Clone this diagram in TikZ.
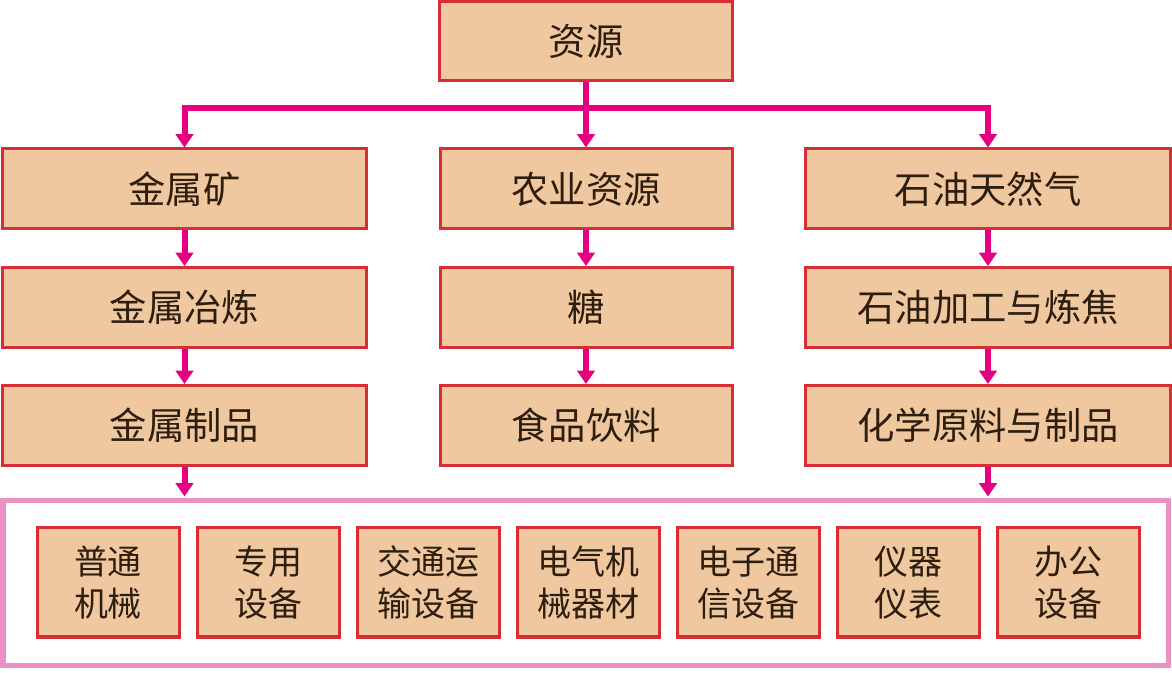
\documentclass[tikz,border=0pt]{standalone}
\usepackage{fontspec}
\setmainfont{Noto Sans CJK SC}
\usetikzlibrary{arrows.meta}
\definecolor{boxfill}{RGB}{240,200,160}
\definecolor{boxline}{RGB}{215,45,55}
\definecolor{arrowcol}{RGB}{228,0,128}
\definecolor{framecol}{RGB}{236,145,195}
\definecolor{txt}{RGB}{45,30,15}
\tikzset{
  bx/.style={draw=boxline, line width=2.25pt, fill=boxfill, text=txt, inner sep=0pt, align=center, font=\fontsize{28}{32}\selectfont},
  bigbox/.style={bx, minimum width=273.5pt, minimum height=60pt},
  midbox/.style={bx, minimum width=219pt, minimum height=60pt},
  smallbox/.style={bx, minimum width=106.5pt, minimum height=81.75pt, font=\fontsize{25.5}{31.5}\selectfont},
  conn/.style={draw=arrowcol, line width=4.5pt},
  arr/.style={conn, -{Triangle[width=13pt,length=10pt]}},
}
\begin{document}
\begin{tikzpicture}[x=0.75pt,y=-0.75pt]
\useasboundingbox (0,0) rectangle (1172,673);
\node[midbox, minimum width=219.75pt, minimum height=59.25pt] (top) at (586,41.5) {资源};
\node[bigbox] (r1l) at (184.5,189) {金属矿};
\node[midbox] (r1m) at (586,189) {农业资源};
\node[bigbox] (r1r) at (988,189) {石油天然气};
\node[bigbox] (r2l) at (184.5,307.5) {金属冶炼};
\node[midbox] (r2m) at (586,307.5) {糖};
\node[bigbox] (r2r) at (988,307.5) {石油加工与炼焦};
\node[bigbox] (r3l) at (184.5,425.5) {金属制品};
\node[midbox] (r3m) at (586,425.5) {食品饮料};
\node[bigbox] (r3r) at (988,425.5) {化学原料与制品};
\node[draw=framecol, line width=3.75pt, minimum width=873.75pt, minimum height=123pt, inner sep=0pt] (frame) at (585.5,583) {};
\node[smallbox] (b1) at (108,582.5) {普通\\机械};
\node[smallbox] (b2) at (268,582.5) {专用\\设备};
\node[smallbox] (b3) at (428,582.5) {交通运\\输设备};
\node[smallbox] (b4) at (588,582.5) {电气机\\械器材};
\node[smallbox] (b5) at (748,582.5) {电子通\\信设备};
\node[smallbox] (b6) at (908,582.5) {仪器\\仪表};
\node[smallbox] (b7) at (1068,582.5) {办公\\设备};
\coordinate (barL) at (184.5,108);
\coordinate (barR) at (988,108);
\coordinate (barM) at (586,108);
\draw[conn] ([xshift=-2.25pt]barL) -- ([xshift=2.25pt]barR);
\draw[conn] (top.south) -- ([yshift=-2.25pt]barM);
\draw[arr] (barL) -- (r1l.north);
\draw[arr] (barM) -- (r1m.north);
\draw[arr] (barR) -- (r1r.north);
\draw[arr] (r1l.south) -- (r2l.north);
\draw[arr] (r1m.south) -- (r2m.north);
\draw[arr] (r1r.south) -- (r2r.north);
\draw[arr] (r2l.south) -- (r3l.north);
\draw[arr] (r2m.south) -- (r3m.north);
\draw[arr] (r2r.south) -- (r3r.north);
\draw[arr] (r3l.south) -- ([yshift=1.5pt]r3l.south |- frame.north);
\draw[arr] (r3r.south) -- ([yshift=1.5pt]r3r.south |- frame.north);
\end{tikzpicture}
\end{document}
